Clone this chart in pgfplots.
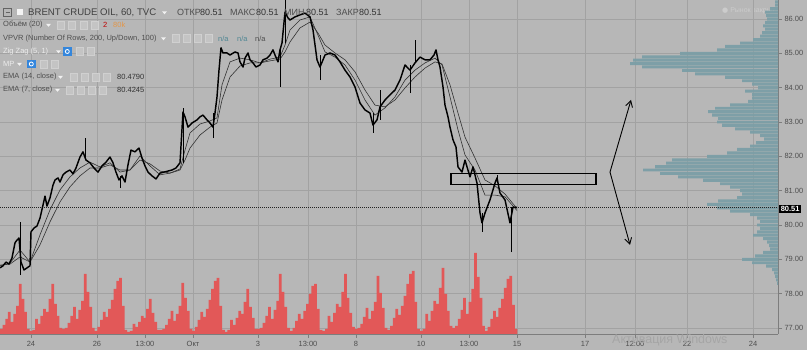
\documentclass[border=0pt]{standalone}
\usepackage{fontspec}
\setmainfont{Liberation Sans}
\newfontfamily\sym{DejaVu Sans}
\usepackage{pgfplots}
\usepackage{pgfplotstable}
\pgfplotsset{compat=1.18}
\usetikzlibrary{arrows.meta}

\definecolor{bgc}{RGB}{183,183,183}
\definecolor{gridc}{RGB}{162,162,162}
\definecolor{axc}{RGB}{125,125,125}
\definecolor{lblc}{RGB}{78,78,78}
\definecolor{volc}{RGB}{226,88,88}
\definecolor{vpc}{RGB}{122,158,166}
\definecolor{emac}{RGB}{50,50,50}
\definecolor{iconc}{RGB}{196,196,196}
\definecolor{iconb}{RGB}{208,208,208}
\definecolor{bluec}{RGB}{52,134,220}
\definecolor{tealc}{RGB}{80,135,148}

\pgfplotsset{geom/.style={at={(0pt,16pt)}, anchor=south west, scale only axis,
  width=778pt, height=334pt, xmin=0, xmax=778, ymin=76.824, ymax=86.553}}

% close prices (x = time position on the chart, p = price)
\pgfplotstableread{
x p
0 78.75
3 78.81
6 78.92
9 78.86
12 79.04
15 79.48
17 79.56
19 79.62
21 78.92
24 78.69
27 78.75
30 78.81
31 79.80
34 79.91
37 79.97
40 80.20
43 80.58
45 80.84
47 80.55
50 80.79
53 81.16
55 81.31
58 81.37
60 81.25
63 81.46
66 81.54
70 81.60
73 81.49
76 81.66
80 81.98
83 82.13
86 81.89
90 81.81
94 81.66
98 81.54
102 81.72
106 81.83
110 81.98
113 81.81
116 81.54
119 81.31
122 81.43
125 81.25
128 81.75
131 82.18
135 82.13
139 82.24
142 81.95
145 81.72
148 81.54
152 81.43
156 81.34
160 81.51
164 81.54
168 81.57
172 81.60
176 81.66
180 81.81
183 83.29
185 83.15
188 82.85
192 82.97
197 83.06
200 83.15
203 83.20
207 83.06
210 82.97
213 82.85
215 83.26
217 83.73
219 84.51
221 85.16
223 85.01
227 85.01
230 84.95
235 85.04
238 85.01
240 84.75
243 84.60
245 84.86
248 85.01
250 84.81
253 84.72
256 84.60
260 84.66
263 84.81
267 84.86
270 84.95
273 85.10
275 84.95
278 84.75
280 85.10
282 85.30
285 86.20
288 86.03
290 85.97
295 86.06
300 86.12
305 86.17
310 86.06
313 85.68
317 84.81
320 84.60
325 84.95
330 85.01
335 84.95
340 84.75
345 84.51
350 84.31
355 84.02
360 83.55
365 83.35
370 83.26
373 82.91
377 83.06
380 83.44
385 83.64
390 83.79
395 83.93
400 84.22
405 84.66
410 84.51
415 84.72
420 84.89
425 84.81
430 84.81
434 84.95
436 85.10
438 84.81
440 84.60
443 84.02
445 83.49
448 83.15
450 82.85
453 82.48
456 82.27
458 81.69
462 81.54
465 81.89
470 81.40
473 81.69
477 81.22
480 80.35
482 80.06
485 80.35
490 80.73
495 81.22
497 81.37
500 80.93
505 80.73
510 80.06
513 80.52
517 80.51
}\closedata

% hourly volume, 12 bars per trading day
\pgfplotstableread{
v
4
5
9
15
22
12
20
28
50
35
22
5
3
4
15
10
18
25
22
35
50
30
18
6
5
6
11
18
27
15
24
33
60
42
27
6
3
7
14
22
17
25
34
45
53
56
28
4
2
3
10
7
12
18
16
25
35
21
12
4
4
5
9
15
23
13
20
28
51
36
23
5
3
7
14
22
17
25
34
45
53
56
28
4
2
4
14
9
16
23
20
32
45
27
16
5
5
6
11
18
27
15
24
33
60
42
27
6
3
6
13
20
15
23
30
40
48
50
25
4
3
5
18
12
21
30
27
42
60
36
21
7
5
6
10
17
26
15
23
32
58
41
26
6
4
8
16
25
19
28
38
50
60
63
32
5
3
5
20
13
23
33
30
46
66
40
23
8
6
8
15
24
36
20
32
45
81
57
36
8
3
7
15
23
17
26
35
46
55
58
29
5
}\voldata

\newcommand\tri[2]{\fill[white!80!bgc] (#1pt,#2pt+1.2pt) -- ++(5pt,0) -- ++(-2.5pt,-3pt) -- cycle;}
\newcommand\icon[2]{\filldraw[fill=iconc,draw=iconb,line width=0.5pt] (#1pt,#2pt-3.8pt) rectangle ++(7.6pt,7.6pt);}
\newcommand\bicon[2]{\fill[bluec] (#1pt,#2pt-4.3pt) rectangle ++(8.6pt,8.6pt);
  \draw[white,line width=0.8pt] (#1pt+4.3pt,#2pt) circle (2pt);}

\begin{document}
\begin{tikzpicture}
\fill[bgc] (0,0) rectangle (807pt,350pt);
\node[anchor=west, inner sep=0, text=white!60!gray, font=\fontsize{7}{8}\selectfont] at (722pt,339pt) {{\sym ●} Рынок закрыт};

% frame, grid and scales
\begin{axis}[geom,
  axis x line*=bottom, axis y line*=right,
  axis line style={axc, line width=0.7pt},
  grid=major, grid style={gridc, line width=0.7pt},
  tick align=outside, major tick length=4pt,
  tick style={axc, line width=0.6pt},
  xtick={31,97,145,193,258,308,356,421,469,517,585,635,687,753},
  xticklabels={24,26,13:00,Окт,3,13:00,8,10,13:00,15,17,12:00,22,24},
  ytick={77,78,...,86},
  yticklabel={\pgfmathprintnumber[fixed,fixed zerofill,precision=2,assume math mode=true]{\tick}},
  ticklabel style={font=\fontsize{7.5}{9}\selectfont, text=lblc},
  yticklabel style={xshift=-1pt},
]
\addplot[draw=none] coordinates {(0,80)};
\end{axis}

% volume pane
\begin{axis}[geom, hide axis, xmin=0.5535, xmax=287.64, ymin=0, ymax=334]
\addplot[ybar, bar width=2.75pt, fill=volc, draw=none] table[x expr=\coordindex, y=v] {\voldata};
\end{axis}

% volume profile (VPVR), width of each price row
\begin{axis}[geom, hide axis, x dir=reverse]
\addplot[xbar, bar width=0.085, fill=vpc, draw=none, fill opacity=0.92] coordinates {
(3,86.5)(3,86.4)(8,86.3)(13,86.2)(12,86.1)(11,86.0)(13,85.9)(15,85.8)(13,85.7)(16,85.6)
(18,85.5)(25,85.4)(38,85.3)(53,85.2)(61,85.1)(98,85.0)(136,84.9)(145,84.8)(148,84.7)(136,84.6)
(96,84.5)(83,84.4)(53,84.3)(36,84.2)(26,84.1)(20,84.0)(33,83.9)(26,83.8)(26,83.7)(30,83.6)
(48,83.5)(63,83.4)(70,83.3)(66,83.2)(60,83.1)(61,83.0)(56,82.9)(43,82.8)(28,82.7)(18,82.6)
(14,82.5)(22,82.4)(28,82.3)(41,82.2)(51,82.1)(71,82.0)(106,81.9)(112,81.8)(123,81.7)(135,81.6)
(118,81.5)(100,81.4)(75,81.3)(58,81.2)(48,81.1)(38,81.0)(36,80.9)(41,80.8)(60,80.7)(71,80.6)
(61,80.5)(48,80.4)(28,80.3)(21,80.2)(18,80.1)(21,80.0)(18,79.9)(21,79.8)(25,79.7)(15,79.6)
(11,79.5)(9,79.4)(8,79.3)(15,79.2)(23,79.1)(36,79.0)(26,78.9)(12,78.8)(6,78.7)(4,78.6)
(3,78.5)(2,78.4)(1,78.3)};
\end{axis}

% price, EMAs, annotations
\begin{axis}[geom, hide axis]
\addplot[emac!70!black, line width=1pt, dash pattern=on 1pt off 1pt] coordinates {(0,80.51) (778,80.51)};
\addplot[emac, line width=0.6pt] coordinates {
(0,78.83)(10,78.86)(20,79.07)(30,78.92)(40,79.42)(50,80.09)(60,80.67)(70,81.11)(80,81.43)(90,81.66)
(100,81.66)(110,81.75)(120,81.60)(130,81.60)(140,81.89)(150,81.78)(160,81.57)(170,81.51)(180,81.60)(185,81.89)
(190,82.24)(200,82.62)(210,82.85)(217,82.97)(222,83.64)(230,84.31)(240,84.63)(250,84.72)(260,84.72)(270,84.78)
(280,84.83)(285,85.04)(290,85.33)(300,85.74)(310,85.91)(318,85.59)(325,85.24)(335,85.01)(345,84.81)(355,84.46)
(365,83.93)(375,83.49)(385,83.44)(395,83.64)(405,83.99)(415,84.31)(425,84.57)(435,84.75)(442,84.69)(450,84.08)
(458,83.26)(465,82.56)(475,81.95)(485,81.31)(495,81.14)(505,80.90)(517,80.48)};
\addplot[emac, line width=0.6pt] coordinates {
(0,78.81)(10,78.89)(20,79.27)(30,78.92)(40,79.71)(50,80.44)(60,81.02)(70,81.40)(80,81.66)(90,81.83)
(100,81.69)(110,81.81)(120,81.54)(130,81.60)(140,82.01)(150,81.72)(160,81.46)(170,81.51)(180,81.63)(185,82.18)
(190,82.68)(200,82.94)(210,83.03)(217,83.12)(222,84.08)(230,84.75)(240,84.86)(250,84.81)(260,84.72)(270,84.83)
(280,84.89)(285,85.24)(290,85.68)(300,85.97)(310,86.06)(318,85.53)(325,85.04)(335,84.89)(345,84.66)(355,84.22)
(365,83.64)(375,83.20)(385,83.41)(395,83.73)(405,84.22)(415,84.51)(425,84.72)(435,84.86)(442,84.66)(450,83.73)
(458,82.77)(465,82.04)(475,81.60)(485,80.87)(495,80.87)(505,80.82)(517,80.42)};
\addplot[black, line width=0.6pt, unbounded coords=jump] table {
x y
20 78.54
20 80.09
20 nan
85 81.89
85 82.53
85 nan
120 81.08
120 81.43
120 nan
183 81.81
183 83.41
183 nan
213 82.53
213 83.26
213 nan
280 84.02
280 85.10
280 nan
285 85.30
285 86.55
285 nan
320 84.22
320 84.95
320 nan
373 82.68
373 83.26
373 nan
380 83.06
380 83.93
380 nan
410 83.84
410 84.66
410 nan
415 84.72
415 85.39
415 nan
482 79.80
482 80.35
482 nan
497 81.22
497 81.46
497 nan
511 79.21
511 80.52
};
\addplot[black, line width=1.45pt, line join=round] table[x=x, y=p] {\closedata};
\draw[black, line width=1.2pt] (axis cs:451,81.19) rectangle (axis cs:596,81.51);
\draw[black, line width=0.9pt, -{Straight Barb[length=6pt,width=7pt]}] (axis cs:610,81.54) -- (axis cs:631,83.64);
\draw[black, line width=0.9pt, -{Straight Barb[length=6pt,width=7pt]}] (axis cs:610,81.54) -- (axis cs:630,79.42);
\end{axis}

% current price label
\node[fill=black, text=white, inner sep=1.6pt, font=\fontsize{7.5}{8}\selectfont\bfseries, anchor=west] at (779pt,141pt) {80.51};

% legend block (top left)
\draw[lblc!80!bgc, line width=0.6pt] (3.5pt,333.5pt) rectangle (11.5pt,341.5pt);
\draw[lblc!80!bgc, line width=0.6pt] (5.5pt,337.5pt) -- (9.5pt,337.5pt);
\fill[white!85!bgc] (17pt,334.5pt) rectangle (23pt,340.5pt);
\node[anchor=west, inner sep=0, text=black!75, font=\fontsize{9.6}{11}\selectfont] at (28pt,337.5pt) {BRENT CRUDE OIL, 60, TVC};
\tri{162}{337.5}
\begin{scope}[every node/.style={anchor=west, inner sep=0, font=\fontsize{9}{11}\selectfont}]
\node[text=lblc] at (177pt,337.5pt) {ОТКР};
\node[text=black!80] at (200pt,337.5pt) {80.51};
\node[text=lblc] at (230pt,337.5pt) {МАКС};
\node[text=black!80] at (256pt,337.5pt) {80.51};
\node[text=lblc] at (284pt,337.5pt) {МИН};
\node[text=black!80] at (306pt,337.5pt) {80.51};
\node[text=lblc] at (336pt,337.5pt) {ЗАКР};
\node[text=black!80] at (359pt,337.5pt) {80.51};
\end{scope}
\begin{scope}[every node/.style={anchor=west, inner sep=0, font=\fontsize{7.5}{9}\selectfont}]
\node[text=lblc] at (3pt,325pt) {Объём (20)};
\tri{46}{325}
\icon{57}{325}\icon{68}{325}\icon{80}{325}\icon{91}{325}
\node[text=red!75!black] at (103pt,325pt) {2};
\node[text=orange!60!bgc] at (113pt,325pt) {80k};
\node[text=lblc] at (3pt,311.5pt) {VPVR (Number Of Rows, 200, Up/Down, 100)};
\tri{161}{311.5}
\icon{172}{311.5}\icon{183}{311.5}\icon{194}{311.5}\icon{205}{311.5}
\node[text=tealc] at (218pt,311.5pt) {n/a};
\node[text=tealc] at (237pt,311.5pt) {n/a};
\node[text=lblc] at (255pt,311.5pt) {n/a};
\node[text=white!75!bgc] at (3pt,298.5pt) {Zig Zag (5, 1)};
\tri{56}{298.5}
\bicon{63}{298.5}\icon{76}{298.5}\icon{87}{298.5}
\node[text=white!75!bgc] at (3pt,286pt) {MP};
\tri{17}{286}
\bicon{27}{286}\icon{40}{286}\icon{51}{286}
\node[text=lblc] at (3pt,273pt) {EMA (14, close)};
\tri{58}{273}
\icon{70}{273}\icon{81}{273}\icon{92}{273}\icon{103}{273}
\node[text=black!80] at (117pt,273pt) {80.4790};
\node[text=lblc] at (3pt,260pt) {EMA (7, close)};
\tri{55}{260}
\icon{66}{260}\icon{77}{260}\icon{88}{260}\icon{99}{260}
\node[text=black!80] at (117pt,260pt) {80.4245};
\end{scope}

% screen watermark
\node[anchor=west, inner sep=0, text=bgc!90!black, font=\fontsize{12.5}{14}\selectfont] at (612pt,9.5pt) {Активация Windows};

\pgfresetboundingbox
\path[use as bounding box] (0,0) rectangle (807pt,350pt);
\end{tikzpicture}
\end{document}
